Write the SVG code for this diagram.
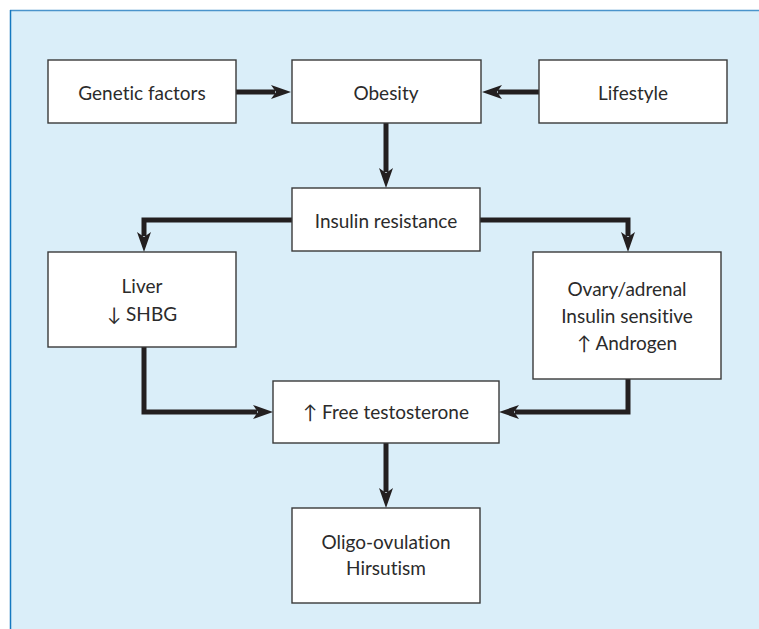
<svg xmlns="http://www.w3.org/2000/svg" width="759" height="629" viewBox="0 0 759 629">
<style>
.box{fill:#ffffff;stroke:#3a3a3a;stroke-width:1.4}
.lbl{font-family:Lato,"Liberation Sans",sans-serif;font-size:19px;fill:#2b2b2b;text-anchor:middle;dominant-baseline:central;font-variant-ligatures:none}
.con{fill:none;stroke:#231f20;stroke-width:5;marker-end:url(#ah)}
</style>
<defs>
<marker id="ah" viewBox="0 0 20 16" refX="4" refY="8" markerWidth="20" markerHeight="16" markerUnits="userSpaceOnUse" orient="auto">
<path d="M0,1 L20,8 L0,15 L5,8 Z" fill="#231f20"/>
</marker>
</defs>
<rect x="0" y="0" width="759" height="629" fill="#ffffff"/>
<rect x="10" y="10.5" width="749" height="618.5" fill="#daeef9"/>
<line x1="10" y1="10.5" x2="759" y2="10.5" stroke="#4a94cc" stroke-width="1.5"/>
<line x1="10.5" y1="10" x2="10.5" y2="629" stroke="#1478c0" stroke-width="1.5"/>

<g id="connectors">
<path class="con" d="M236,92 H275"/>
<path class="con" d="M539,92 H498"/>
<path class="con" d="M386,123 V172"/>
<path class="con" d="M292,220 H144 V236"/>
<path class="con" d="M480,220 H628 V236"/>
<path class="con" d="M144,347 V412 H257"/>
<path class="con" d="M628,379 V412 H515"/>
<path class="con" d="M386,443 V492"/>
</g>

<g id="genetic">
<rect class="box" x="48" y="60" width="188" height="63"/>
<text class="lbl" x="142" y="92">Genetic factors</text>
</g>
<g id="obesity">
<rect class="box" x="292" y="60" width="189" height="63"/>
<text class="lbl" x="386" y="92">Obesity</text>
</g>
<g id="lifestyle">
<rect class="box" x="539" y="60" width="188" height="63"/>
<text class="lbl" x="633" y="92">Lifestyle</text>
</g>
<g id="insulin">
<rect class="box" x="292" y="188" width="188" height="63"/>
<text class="lbl" x="386" y="220">Insulin resistance</text>
</g>
<g id="liver">
<rect class="box" x="48" y="252" width="188" height="95"/>
<text class="lbl" x="142" y="285">Liver</text>
<text class="lbl" x="142" y="313">↓ SHBG</text>
</g>
<g id="ovary">
<rect class="box" x="533" y="252" width="188" height="127"/>
<text class="lbl" x="627" y="288">Ovary/adrenal</text>
<text class="lbl" x="627" y="315">Insulin sensitive</text>
<text class="lbl" x="627" y="342">↑ Androgen</text>
</g>
<g id="freetestosterone">
<rect class="box" x="273" y="381" width="226" height="62"/>
<text class="lbl" x="386" y="411">↑ Free testosterone</text>
</g>
<g id="oligo">
<rect class="box" x="292" y="508" width="188" height="95"/>
<text class="lbl" x="386" y="541">Oligo-ovulation</text>
<text class="lbl" x="386" y="567">Hirsutism</text>
</g>
</svg>
